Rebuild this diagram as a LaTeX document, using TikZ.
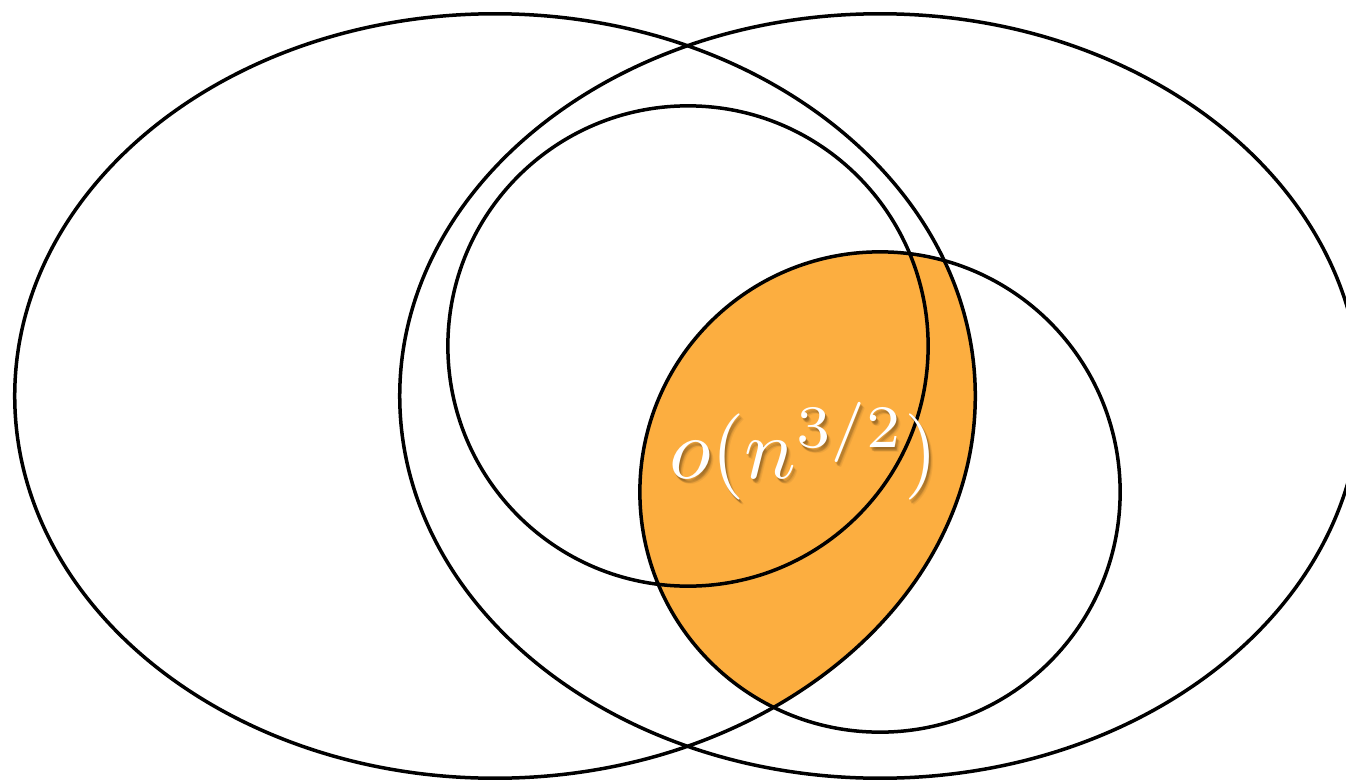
\documentclass[tikz,border=0pt]{standalone}
\usepackage{graphicx}
\definecolor{venorange}{RGB}{252,174,64}
\tikzset{
  outline/.style={draw=black, line width=0.035cm},
  lbl/.style={inner sep=0pt},
}
\newcommand{\lbltext}{\scalebox{2.45}{$o(n^{3/2})$}}
\begin{document}
\begin{tikzpicture}[x=0.01cm,y=-0.01cm]
\clip (0,0) rectangle (1346,782);
\fill[white] (0,0) rectangle (1346,782);
% orange intersection: left ellipse and lower circle
\begin{scope}
  \clip (495,396) ellipse [x radius=4.80cm, y radius=3.82cm];
  \fill[venorange] (880,492) circle [radius=2.40cm];
\end{scope}
% outlines
\draw[outline] (495,396) ellipse [x radius=4.80cm, y radius=3.82cm];
\draw[outline] (880,396) ellipse [x radius=4.80cm, y radius=3.82cm];
\draw[outline] (688,346) circle [radius=2.40cm];
\draw[outline] (880,492) circle [radius=2.40cm];
% label with soft shadow
\foreach \dx/\dy/\op in {2/3/0.10, 3/4/0.08, 1/2/0.10, 4/5/0.06, 2/4/0.08}{
  \node[lbl, text=black, text opacity=\op] at (804+\dx,451+\dy) {\lbltext};
}
\node[lbl, text=white] (label) at (804,451) {\lbltext};
\end{tikzpicture}
\end{document}
